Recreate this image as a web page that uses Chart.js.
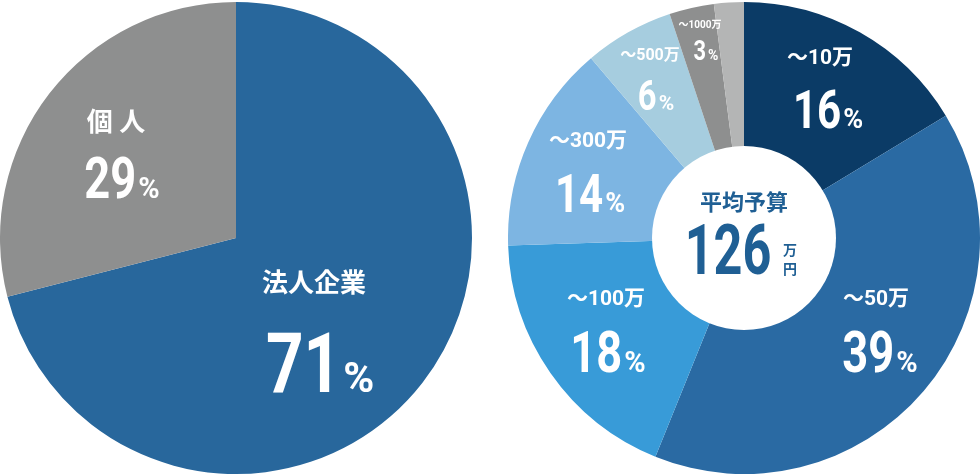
<!DOCTYPE html>
<html><head><meta charset="utf-8">
<script src="https://cdn.jsdelivr.net/npm/chart.js@4"></script>
<style>
body{margin:0;background:#fff;width:980px;height:476px;position:relative;overflow:hidden}
canvas{position:absolute;top:0}
#c1{left:0}
#c2{left:508px}
</style></head><body>
<canvas id="c1" width="472" height="476"></canvas>
<canvas id="c2" width="472" height="476"></canvas>
<script>
// データ
const leftLabels = ['法人企業', '個人'];
const leftValues = [71, 29];
const leftColors = ['#28679c', '#8e8f8f'];

const rightLabels = ['～10万', '～50万', '～100万', '～300万', '～500万', '～1000万', 'その他'];
const rightValues = [16, 39, 18, 14, 6, 3, 2];
const rightColors = ['#0b3b66', '#2a6aa3', '#389bd8', '#7db5e2', '#a6cddf', '#8e8f8f', '#b4b5b5'];

const FONT = '"Roboto", "Noto Sans CJK JP", sans-serif';

// テキストを描画 (横方向を詰めてコンデンス風に)
function txt(ctx, s, x, y, size, color, align, sx) {
    ctx.save();
    ctx.font = 'bold ' + size + 'px ' + FONT;
    ctx.fillStyle = color || '#fff';
    ctx.textAlign = align || 'center';
    ctx.textBaseline = 'alphabetic';
    ctx.translate(x, y);
    ctx.scale(sx || 0.78, 1);
    ctx.fillText(s, 0, 0);
    ctx.restore();
}

// 数字 + % をまとめて描く
function pct(ctx, num, x, y, size) {
    ctx.save();
    ctx.font = 'bold ' + size + 'px ' + FONT;
    const w1 = ctx.measureText(num).width * 0.78;
    ctx.font = '500 ' + (size * 0.5) + 'px ' + FONT;
    const w2 = ctx.measureText('%').width;
    ctx.restore();
    const left = x - (w1 + w2 + 2) / 2;
    txt(ctx, num, left, y, size, '#fff', 'left');
    txt(ctx, '%', left + w1 + 2, y, size * 0.5, '#fff', 'left', 1);
}

const leftText = {
    id: 'leftText',
    afterDraw(chart) {
        const ctx = chart.ctx;
        txt(ctx, '個 人', 116, 131, 26, '#fff', 'center', 1);
        pct(ctx, '29', 122, 198, 58);
        txt(ctx, '法人企業', 314, 292, 26, '#fff', 'center', 1);
        pct(ctx, '71', 320, 392, 84);
    }
};

const rightText = {
    id: 'rightText',
    afterDraw(chart) {
        const ctx = chart.ctx;
        const o = -508;
        const cx = chart.chartArea.left + (chart.chartArea.right - chart.chartArea.left) / 2;
        const cy = chart.chartArea.top + (chart.chartArea.bottom - chart.chartArea.top) / 2;
        ctx.save();
        ctx.beginPath();
        ctx.arc(cx, cy, 92, 0, Math.PI * 2);
        ctx.fillStyle = '#fff';
        ctx.fill();
        ctx.restore();
        txt(ctx, '平均予算', 744 + o, 210, 22, '#1f5f94', 'center', 1);
        txt(ctx, '126', 728 + o, 274, 70, '#1f5f94', 'center', 0.72);
        txt(ctx, '万', 790 + o, 255, 14, '#1f5f94', 'center', 1);
        txt(ctx, '円', 790 + o, 274, 14, '#1f5f94', 'center', 1);

        txt(ctx, '～10万', 820 + o, 64, 21, '#fff', 'center', 1);
        pct(ctx, '16', 828 + o, 128, 54);
        txt(ctx, '～50万', 876 + o, 305, 21, '#fff', 'center', 1);
        pct(ctx, '39', 880 + o, 372, 58);
        txt(ctx, '～100万', 606 + o, 305, 21, '#fff', 'center', 1);
        pct(ctx, '18', 608 + o, 372, 58);
        txt(ctx, '～300万', 588 + o, 147, 21, '#fff', 'center', 1);
        pct(ctx, '14', 590 + o, 212, 54);
        txt(ctx, '～500万', 650 + o, 60, 16, '#fff', 'center', 1);
        pct(ctx, '6', 656 + o, 110, 42);
        txt(ctx, '～1000万', 700 + o, 28, 10, '#fff', 'center', 1);
        pct(ctx, '3', 706 + o, 60, 28);
    }
};

function pieOpts() {
    return {
        responsive: false,
        animation: false,
        layout: { padding: 0 },
        plugins: { legend: { display: false }, tooltip: { enabled: false } }
    };
}

new Chart(document.getElementById('c1'), {
    type: 'pie',
    data: {
        labels: leftLabels,
        datasets: [{ data: leftValues, backgroundColor: leftColors, borderWidth: 0 }]
    },
    options: pieOpts(),
    plugins: [leftText]
});

new Chart(document.getElementById('c2'), {
    type: 'pie',
    data: {
        labels: rightLabels,
        datasets: [{ data: rightValues, backgroundColor: rightColors, borderWidth: 0 }]
    },
    options: pieOpts(),
    plugins: [rightText]
});
</script>
</body></html>
